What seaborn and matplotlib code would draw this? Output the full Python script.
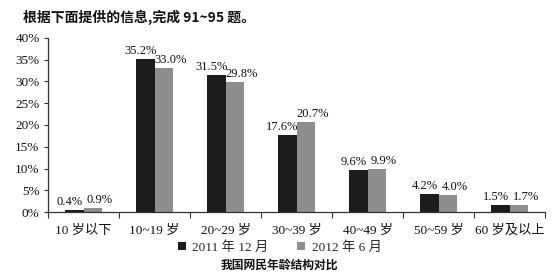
import matplotlib
matplotlib.use("Agg")
import matplotlib.pyplot as plt
import seaborn as sns
import pandas as pd
from matplotlib.patches import Patch
from matplotlib.ticker import FixedLocator, NullFormatter

categories = ["10 岁以下", "10~19 岁", "20~29 岁", "30~39 岁", "40~49 岁", "50~59 岁", "60 岁及以上"]
series_names = ["2011 年 12 月", "2012 年 6 月"]
values_2011_12 = [0.4, 35.2, 31.5, 17.6, 9.6, 4.2, 1.5]
values_2012_06 = [0.9, 33.0, 29.8, 20.7, 9.9, 4.0, 1.7]
y_ticks = [0, 5, 10, 15, 20, 25, 30, 35, 40]
title = "根据下面提供的信息,完成 91~95 题。"
caption = "我国网民年龄结构对比"

sns.set_theme(style="white")
fam = ["Liberation Serif", "Noto Sans CJK SC", "DejaVu Sans"]
cjk = ["Noto Sans CJK SC", "DejaVu Sans"]
plt.rcParams["font.family"] = fam

df = pd.DataFrame({
    "cat": categories * 2,
    "series": [series_names[0]] * len(categories) + [series_names[1]] * len(categories),
    "val": values_2011_12 + values_2012_06,
})
colors = ["#1c1c1c", "#8e8e8e"]

fig = plt.figure(figsize=(5.54, 2.75), dpi=100)
ax = fig.add_axes([0.0866, 0.229, 0.898, 0.633])
sns.barplot(data=df, x="cat", y="val", hue="series", order=categories,
            hue_order=series_names, palette=colors, width=0.52,
            ax=ax, legend=False, saturation=1, linewidth=0)

offsets_px = [-5, 7]
for cont, dx in zip(ax.containers, offsets_px):
    for bar, v in zip(cont, cont.datavalues):
        ax.annotate(f"{v:.1f}%", (bar.get_x() + bar.get_width() / 2, bar.get_height()),
                    xytext=(dx * 0.72, 1.5), textcoords="offset points",
                    ha="center", va="bottom", fontsize=9, family=fam, color="#111")

ax.set_xlim(-0.5, 6.5)
ax.set_ylim(0, 40)
ax.set_yticks(y_ticks)
ax.set_yticklabels([f"{t}%" for t in y_ticks], fontsize=9.5, family=fam, color="#111")
ax.set_xticks(range(len(categories)))
ax.set_xticklabels(categories, fontsize=9.5, family=fam, color="#111")
ax.tick_params(axis="x", which="major", length=0, pad=9)
ax.xaxis.set_minor_locator(FixedLocator([i + 0.5 for i in range(-1, len(categories))]))
ax.xaxis.set_minor_formatter(NullFormatter())
ax.tick_params(axis="x", which="minor", length=4, width=0.8, color="#333", bottom=True, direction="out")
ax.tick_params(axis="y", length=3, width=0.8, color="#333", left=True, direction="out", pad=3)
ax.set_xlabel("")
ax.set_ylabel("")
for s in ["top", "right"]:
    ax.spines[s].set_visible(False)
for s in ["left", "bottom"]:
    ax.spines[s].set_color("#333")
    ax.spines[s].set_linewidth(0.9)

handles = [Patch(facecolor=c, edgecolor="none") for c in colors]
fig.legend(handles, series_names, loc="center", bbox_to_anchor=(0.505, 0.1), ncol=2,
           frameon=False, prop={"family": fam, "size": 9.5},
           handlelength=0.6, handleheight=0.6, handletextpad=0.5, columnspacing=2.2)

fig.text(0.042, 0.938, title, fontsize=10, fontweight="bold", family=cjk, ha="left", va="center", color="#111")
fig.text(0.505, 0.036, caption, fontsize=8.5, fontweight="bold", family=cjk, ha="center", va="center", color="#111")

fig.savefig("out.png", dpi=100)
